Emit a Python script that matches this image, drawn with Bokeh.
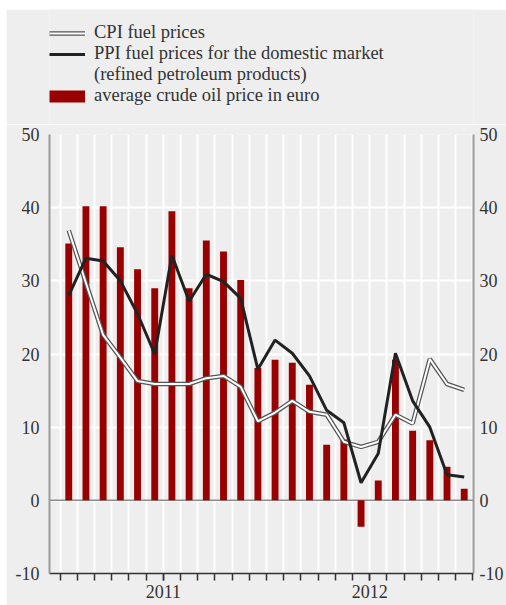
from bokeh.plotting import figure
from bokeh.layouts import column
from bokeh.models import (LinearAxis, FixedTicker, Range1d, Span, Legend, LegendItem, Grid)
from bokeh.embed import file_html
from bokeh.resources import INLINE

# ---- data (monthly, Jan 2011 - Dec 2012) ----
months = ["Jan 2011", "Feb 2011", "Mar 2011", "Apr 2011", "May 2011", "Jun 2011",
          "Jul 2011", "Aug 2011", "Sep 2011", "Oct 2011", "Nov 2011", "Dec 2011",
          "Jan 2012", "Feb 2012", "Mar 2012", "Apr 2012", "May 2012", "Jun 2012",
          "Jul 2012", "Aug 2012", "Sep 2012", "Oct 2012", "Nov 2012", "Dec 2012"]
crude = [35.1, 40.2, 40.2, 34.6, 31.6, 29.0, 39.5, 29.0, 35.5, 34.0, 30.1, 18.1,
         19.2, 18.8, 15.8, 7.6, 8.3, -3.6, 2.7, 19.2, 9.5, 8.2, 4.6, 1.6]
ppi = [28.0, 33.1, 32.7, 30.0, 25.5, 20.0, 33.5, 27.2, 30.9, 29.9, 27.6, 17.9,
       21.9, 20.1, 17.0, 12.3, 10.6, 2.4, 6.4, 20.1, 13.6, 10.0, 3.5, 3.2]
cpi = [36.9, 29.7, 22.6, 19.5, 16.3, 15.9, 15.9, 15.9, 16.7, 17.0, 15.5, 10.8,
       12.0, 13.6, 12.1, 11.7, 8.0, 7.3, 8.0, 11.7, 10.5, 19.3, 15.9, 15.1]
years = ["2011", "2012"]
y_ticks = [-10, 0, 10, 20, 30, 40, 50]
legend_labels = ["CPI fuel prices",
                 "PPI fuel prices for the domestic market",
                 "(refined petroleum products)",
                 "average crude oil price in euro"]

x = list(range(len(months)))
boundaries = [i - 0.5 for i in range(len(months) + 1)]
year_centers = [5.5, 17.5]

FONT = "Liberation Serif"
BG = "#eeeeee"
RED = "#990000"
PPI_COL = "#222222"
CPI_EDGE = "#555555"

# ---------------- main chart ----------------
p = figure(width=500, height=481,
           x_range=Range1d(-1.12, 23.54), y_range=Range1d(-10, 50),
           output_backend="svg", toolbar_location=None,
           x_axis_location=None, y_axis_location=None,
           min_border_left=43, min_border_right=29,
           min_border_top=10, min_border_bottom=32,
           background_fill_color=BG, border_fill_color=BG,
           outline_line_color=None)

for g in p.grid:
    g.visible = False

p.add_layout(Grid(dimension=0, ticker=FixedTicker(ticks=boundaries),
                  grid_line_color="white", grid_line_width=2))
p.add_layout(Grid(dimension=1, ticker=FixedTicker(ticks=y_ticks),
                  grid_line_color="white", grid_line_width=2))
p.add_layout(Span(location=0, dimension="width", line_color="#8a8a8a",
                  line_width=1.5, level="underlay"))

def y_axis(standoff):
    return LinearAxis(ticker=FixedTicker(ticks=y_ticks),
                      major_label_overrides={-10: "-10"},
                      axis_line_color="#9a9a9a", axis_line_width=2,
                      major_tick_out=0, major_tick_in=0,
                      minor_tick_out=0, minor_tick_in=0,
                      major_label_standoff=standoff,
                      major_label_text_font=FONT,
                      major_label_text_font_size="18px",
                      major_label_text_color="#333333")

p.add_layout(y_axis(10), "left")
p.add_layout(y_axis(6), "right")

bottom = LinearAxis(ticker=FixedTicker(ticks=year_centers, minor_ticks=boundaries),
                    major_label_overrides={year_centers[0]: years[0],
                                           year_centers[1]: years[1]},
                    axis_line_color="#333333", axis_line_width=1.5,
                    major_tick_out=7, major_tick_in=0,
                    minor_tick_out=7, minor_tick_in=0,
                    major_tick_line_color="#333333", minor_tick_line_color="#333333",
                    major_tick_line_width=1.5, minor_tick_line_width=1.5,
                    major_label_standoff=4,
                    major_label_text_font=FONT,
                    major_label_text_font_size="18px",
                    major_label_text_color="#333333")
p.add_layout(bottom, "below")

p.vbar(x=x, top=crude, bottom=0, width=0.4, fill_color=RED, line_color=None)
p.line(x, cpi, line_color=CPI_EDGE, line_width=4.5)
p.line(x, cpi, line_color="white", line_width=2)
p.line(x, ppi, line_color=PPI_COL, line_width=3)

# ---------------- legend panel ----------------
lg = figure(width=500, height=115, x_range=Range1d(0, 1), y_range=Range1d(0, 1),
            output_backend="svg", toolbar_location=None,
            x_axis_location=None, y_axis_location=None,
            min_border=0, min_border_left=0, min_border_right=0,
            min_border_top=0, min_border_bottom=0,
            background_fill_color=BG, border_fill_color=BG,
            outline_line_color=None)
for g in lg.grid:
    g.visible = False

# legend proxies: their points lie outside the visible range of this panel
px, py = [5, 6], [5, 6]
l_cpi_o = lg.line(px, py, line_color=CPI_EDGE, line_width=4.5)
l_cpi_i = lg.line(px, py, line_color="white", line_width=2)
l_ppi = lg.line(px, py, line_color=PPI_COL, line_width=3)
l_bar = lg.line(px, py, line_color=RED, line_width=12, line_cap="butt")

legend = Legend(items=[
    LegendItem(label=legend_labels[0], renderers=[l_cpi_o, l_cpi_i]),
    LegendItem(label=legend_labels[1], renderers=[l_ppi]),
    LegendItem(label=legend_labels[2], renderers=[]),
    LegendItem(label=legend_labels[3], renderers=[l_bar]),
], location=(0, 18), orientation="vertical",
   glyph_width=36, glyph_height=20, label_height=20, label_standoff=9,
   spacing=0, padding=0, margin=0,
   border_line_color=None, background_fill_alpha=0,
   label_text_font=FONT, label_text_font_size="18.5px", label_text_color="#333333")
lg.add_layout(legend)

layout = column(lg, p, spacing=0, margin=(9, 0, 0, 6))

open("out.html", "w").write(file_html(layout, INLINE))
